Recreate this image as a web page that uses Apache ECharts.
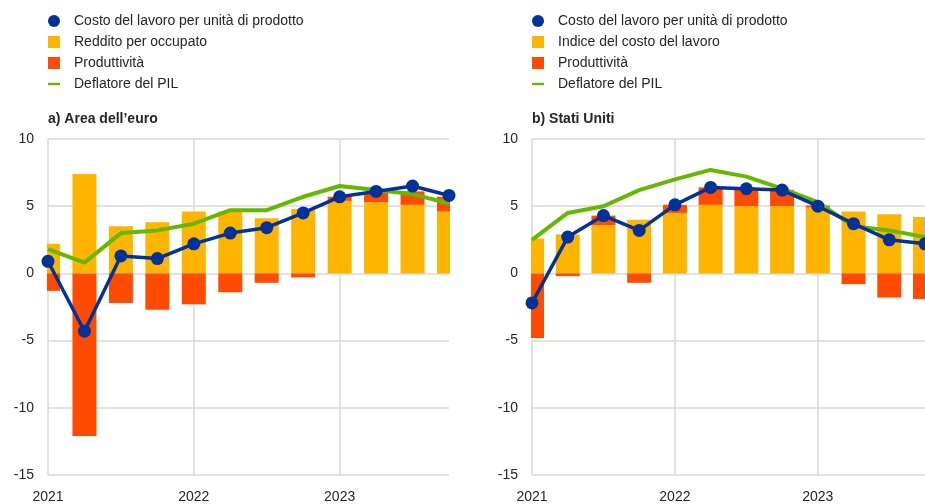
<!DOCTYPE html>
<html>
<head>
<meta charset="utf-8">
<script src="https://cdn.jsdelivr.net/npm/echarts@6/dist/echarts.min.js"></script>
<style>
  html, body { margin: 0; padding: 0; background: #fff; }
  #chart { width: 925px; height: 504px; }
</style>
</head>
<body>
<div id="chart"></div>
<script>
// quarters 2021Q1 .. 2023Q4
const quarters = ['2021Q1', '2021Q2', '2021Q3', '2021Q4', '2022Q1', '2022Q2', '2022Q3', '2022Q4', '2023Q1', '2023Q2', '2023Q3', '2023Q4']

// a) Area dell'euro
const euClu = [0.9, -4.3, 1.3, 1.1, 2.2, 3.0, 3.4, 4.5, 5.7, 6.1, 6.5, 5.8]
const euComp = [2.2, 7.4, 3.5, 3.8, 4.6, 4.6, 4.1, 4.8, 5.4, 5.3, 5.1, 4.6]
const euProd = [-1.3, -12.1, -2.2, -2.7, -2.3, -1.4, -0.7, -0.3, 0.3, 0.7, 1.0, 1.1]
const euDefl = [1.8, 0.8, 3.0, 3.2, 3.7, 4.7, 4.7, 5.7, 6.5, 6.2, 5.9, 5.2]

// b) Stati Uniti
const usClu = [-2.2, 2.7, 4.3, 3.2, 5.1, 6.4, 6.3, 6.2, 5.0, 3.7, 2.5, 2.2]
const usEci = [2.6, 2.9, 3.6, 4.0, 4.5, 5.1, 5.0, 5.0, 4.9, 4.6, 4.4, 4.2]
const usProd = [-4.8, -0.2, 0.7, -0.7, 0.6, 1.3, 1.3, 1.2, 0.15, -0.8, -1.8, -1.9]
const usDefl = [2.5, 4.5, 5.0, 6.2, 7.0, 7.7, 7.2, 6.3, 5.3, 3.5, 3.2, 2.7]

const BLUE = '#003299'
const YELLOW = '#ffb400'
const ORANGE = '#ff4b00'
const GREEN = '#65b800'
const GRID = '#d9d9d9'
const TXT = '#262626'
const FONT = 'Liberation Sans, Arial, sans-serif'
const BAR_W = 24

const lineIcon = 'path://M0,0L0,0M0,5.5L15,5.5L15,8.5L0,8.5ZM15,14L15,14'

const makeLegend = (left, secondName) => ({
  orient: 'vertical',
  left: left,
  top: 13,
  padding: 0,
  itemWidth: 12,
  itemHeight: 12,
  itemGap: 5,
  selectedMode: false,
  textStyle: { fontFamily: FONT, fontSize: 14, color: TXT, padding: [0, 0, 0, 9], lineHeight: 16 },
  data: [
    { name: 'Costo del lavoro per unità di prodotto', icon: 'circle' },
    { name: secondName, icon: 'rect' },
    { name: 'Produttività', icon: 'rect' },
    { name: 'Deflatore del PIL', icon: lineIcon }
  ]
})

const makeX = (gridIndex) => ({
  type: 'category',
  gridIndex: gridIndex,
  data: quarters,
  boundaryGap: false,
  axisLine: { show: false },
  axisTick: { show: false },
  axisLabel: {
    interval: 3,
    margin: 15,
    fontFamily: FONT,
    fontSize: 14,
    color: TXT,
    formatter: v => v.slice(0, 4)
  },
  splitLine: { show: true, interval: 3, lineStyle: { color: GRID, width: 1.5 } }
})

const makeY = (gridIndex) => ({
  type: 'value',
  gridIndex: gridIndex,
  min: -15,
  max: 10,
  interval: 5,
  axisLine: { show: false },
  axisTick: { show: false },
  axisLabel: { margin: 14, fontFamily: FONT, fontSize: 14, color: TXT },
  splitLine: { lineStyle: { color: GRID, width: 1.5 } }
})

// bars drawn as custom rects so they are clipped at the plot edges
const barRender = (params, api) => {
  const i = api.value(0)
  const v = api.value(1)
  const base = api.value(2)
  const p0 = api.coord([i, base])
  const p1 = api.coord([i, base + v])
  return {
    type: 'rect',
    shape: { x: p0[0] - BAR_W / 2, y: Math.min(p0[1], p1[1]), width: BAR_W, height: Math.abs(p1[1] - p0[1]) },
    style: { fill: api.visual('color') }
  }
}

const makeSeries = (idx, secondName, comp, prod, clu, defl) => [
  {
    name: secondName, type: 'custom', xAxisIndex: idx, yAxisIndex: idx,
    renderItem: barRender, clip: true, lineStyle: { width: 0.01 },
    encode: { x: 0, y: 1 },
    data: comp.map((v, i) => [i, v, 0]),
    itemStyle: { color: YELLOW }, z: 1
  },
  {
    name: 'Produttività', type: 'custom', xAxisIndex: idx, yAxisIndex: idx,
    renderItem: barRender, clip: true, lineStyle: { width: 0.01 },
    encode: { x: 0, y: 1 },
    // positive values stack on top of the first bar, negative ones start at zero
    data: prod.map((v, i) => [i, v, v > 0 ? comp[i] : 0]),
    itemStyle: { color: ORANGE }, z: 1
  },
  {
    name: 'Deflatore del PIL', type: 'line', xAxisIndex: idx, yAxisIndex: idx,
    data: defl, symbol: 'none', lineStyle: { color: GREEN, width: 4 }, itemStyle: { color: GREEN }, z: 3
  },
  {
    name: 'Costo del lavoro per unità di prodotto', type: 'line', xAxisIndex: idx, yAxisIndex: idx,
    data: clu, symbol: 'circle', symbolSize: 13, lineStyle: { color: BLUE, width: 3.5 },
    itemStyle: { color: BLUE }, z: 4
  }
]

const chart = echarts.init(document.getElementById('chart'))
chart.setOption({
  backgroundColor: '#fff',
  animation: false,
  title: [
    { text: 'a) Area dell\u2019euro', left: 48, top: 112, padding: 0, textStyle: { fontFamily: FONT, fontSize: 14, fontWeight: 'bold', color: TXT } },
    { text: 'b) Stati Uniti', left: 532, top: 112, padding: 0, textStyle: { fontFamily: FONT, fontSize: 14, fontWeight: 'bold', color: TXT } }
  ],
  legend: [
    makeLegend(48, 'Reddito per occupato'),
    makeLegend(532, 'Indice del costo del lavoro')
  ],
  grid: [
    { left: 48, top: 139, width: 401, height: 337 },
    { left: 532, top: 139, width: 395, height: 337 }
  ],
  xAxis: [makeX(0), makeX(1)],
  yAxis: [makeY(0), makeY(1)],
  series: [
    ...makeSeries(0, 'Reddito per occupato', euComp, euProd, euClu, euDefl),
    ...makeSeries(1, 'Indice del costo del lavoro', usEci, usProd, usClu, usDefl)
  ]
})
</script>
</body>
</html>
